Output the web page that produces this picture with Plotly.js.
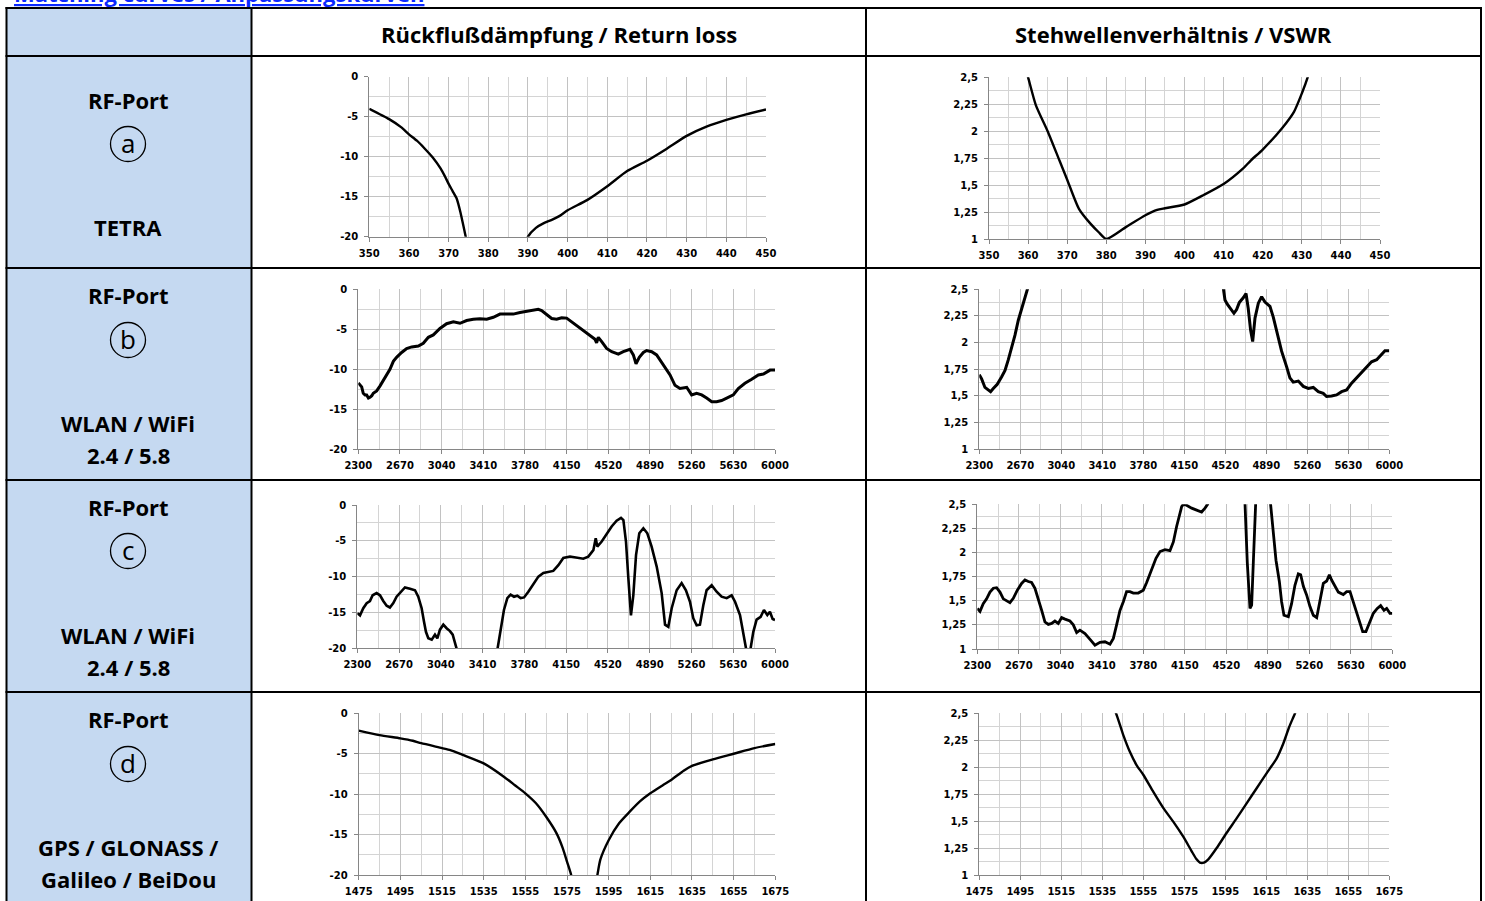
<!DOCTYPE html>
<html>
<head>
<meta charset="utf-8">
<script src="https://cdn.plot.ly/plotly-3.0.1.min.js"></script>
<style>html,body{margin:0;padding:0;background:#fff;}#chart{width:1485px;height:901px;}</style>
</head>
<body>
<div id="chart"></div>
<script>
// ---------------- DATA ----------------
const pageTitle = 'Matching curves / Anpassungskurven';
const columnHeaders = ['Rückflußdämpfung / Return loss', 'Stehwellenverhältnis / VSWR'];
const portLabel = 'RF-Port';
const portLetters = ['a', 'b', 'c', 'd'];
const bandLabels = [['TETRA'], ['WLAN / WiFi', '2.4 / 5.8'], ['WLAN / WiFi', '2.4 / 5.8'], ['GPS / GLONASS /', 'Galileo / BeiDou']];

const rlTickVals = [0, -5, -10, -15, -20];
const rlTickText = ['0', '-5', '-10', '-15', '-20'];
const vswrTickVals = [1, 1.25, 1.5, 1.75, 2, 2.25, 2.5];
const vswrTickText = ['1', '1,25', '1,5', '1,75', '2', '2,25', '2,5'];
const tetraTicks = [350, 360, 370, 380, 390, 400, 410, 420, 430, 440, 450];
const wlanTicks = [2300, 2670, 3040, 3410, 3780, 4150, 4520, 4890, 5260, 5630, 6000];
const gpsTicks = [1475, 1495, 1515, 1535, 1555, 1575, 1595, 1615, 1635, 1655, 1675];

// Row a: TETRA
const tetraRlFreq = [350, 355, 358, 360, 362, 364, 366, 368, 369, 370, 371, 372, 373, 374, 375, 378, 382, 386, 389, 390, 392, 394, 396, 398, 400, 405, 410, 415, 420, 425, 430, 435, 440, 445, 450];
const tetraRlDb = [-4.0, -5.3, -6.3, -7.2, -8.0, -9.0, -10.1, -11.5, -12.4, -13.4, -14.3, -15.2, -17.0, -19.3, -21.5, -26, -30, -26, -21.5, -20.0, -18.9, -18.3, -17.9, -17.4, -16.7, -15.4, -13.7, -11.8, -10.5, -9.0, -7.4, -6.25, -5.4, -4.7, -4.1];
const tetraVswrFreq = [358, 360, 362, 365, 368, 370, 373, 376, 378, 380, 385, 390, 393, 395, 400, 405, 410, 415, 417, 420, 425, 428, 430, 431.5, 433];
const tetraVswr = [2.75, 2.5, 2.24, 2.0, 1.73, 1.55, 1.28, 1.14, 1.065, 1.0, 1.11, 1.22, 1.27, 1.285, 1.32, 1.41, 1.51, 1.655, 1.73, 1.83, 2.03, 2.18, 2.35, 2.5, 2.7];

// Row b: WLAN
const wlanBRlFreq = [2300, 2315, 2330, 2344, 2360, 2374, 2390, 2404, 2420, 2433, 2463, 2492, 2522, 2552, 2581, 2611, 2640, 2685, 2729, 2774, 2833, 2877, 2922, 2966, 3025, 3084, 3144, 3203, 3262, 3321, 3380, 3440, 3499, 3558, 3617, 3676, 3736, 3795, 3854, 3898, 3928, 3972, 4017, 4061, 4106, 4150, 4194, 4239, 4298, 4357, 4402, 4416, 4431, 4461, 4505, 4550, 4609, 4653, 4712, 4742, 4766, 4795, 4831, 4860, 4905, 4949, 5008, 5068, 5112, 5156, 5216, 5260, 5304, 5349, 5393, 5438, 5482, 5526, 5571, 5630, 5674, 5733, 5793, 5852, 5897, 5956, 6000];
const wlanBRlDb = [-11.7, -11.9, -12.2, -13.0, -13.2, -13.2, -13.6, -13.5, -13.3, -13.0, -12.7, -12.1, -11.4, -10.8, -10.0, -9.0, -8.5, -7.9, -7.4, -7.2, -7.1, -6.75, -6.0, -5.7, -4.9, -4.3, -4.05, -4.25, -3.9, -3.75, -3.67, -3.75, -3.5, -3.1, -3.1, -3.1, -2.9, -2.75, -2.6, -2.5, -2.65, -3.2, -3.65, -3.75, -3.55, -3.6, -4.05, -4.55, -5.1, -5.7, -6.25, -6.7, -6.0, -6.55, -7.4, -7.8, -8.1, -7.8, -7.5, -8.2, -9.3, -8.5, -7.9, -7.65, -7.8, -8.2, -9.45, -10.7, -12.0, -12.4, -12.25, -13.2, -13.0, -13.2, -13.6, -14.05, -14.05, -13.9, -13.6, -13.2, -12.4, -11.75, -11.25, -10.7, -10.6, -10.1, -10.1];
const wlanBVswrFreq = [2300, 2321, 2351, 2381, 2402, 2426, 2462, 2502, 2532, 2562, 2592, 2622, 2652, 2682, 2712, 2733, 2751, 2800, 3500, 4450, 4502, 4517, 4538, 4568, 4598, 4622, 4646, 4682, 4707, 4727, 4748, 4767, 4788, 4818, 4848, 4878, 4923, 4953, 4989, 5028, 5073, 5103, 5133, 5179, 5224, 5269, 5314, 5359, 5404, 5434, 5479, 5524, 5570, 5615, 5660, 5705, 5750, 5795, 5840, 5886, 5931, 5961, 6000];
const wlanBVswr = [1.70, 1.66, 1.58, 1.56, 1.54, 1.57, 1.61, 1.68, 1.74, 1.84, 1.95, 2.07, 2.21, 2.32, 2.42, 2.5, 2.56, 2.9, 4.0, 2.9, 2.5, 2.4, 2.36, 2.32, 2.275, 2.31, 2.375, 2.42, 2.46, 2.32, 2.12, 2.01, 2.23, 2.37, 2.43, 2.38, 2.34, 2.24, 2.09, 1.92, 1.775, 1.67, 1.63, 1.64, 1.59, 1.57, 1.58, 1.54, 1.525, 1.495, 1.50, 1.51, 1.54, 1.556, 1.62, 1.67, 1.71, 1.76, 1.82, 1.84, 1.89, 1.925, 1.925];

// Row c: WLAN
const wlanCRlFreq = [2300, 2324, 2353, 2383, 2412, 2436, 2471, 2501, 2530, 2560, 2589, 2619, 2648, 2684, 2722, 2767, 2811, 2840, 2870, 2891, 2908, 2929, 2959, 2988, 3009, 3032, 3062, 3091, 3121, 3145, 3165, 3186, 3250, 3400, 3500, 3543, 3564, 3579, 3599, 3629, 3658, 3688, 3717, 3747, 3777, 3815, 3859, 3904, 3948, 3992, 4036, 4081, 4125, 4184, 4243, 4302, 4346, 4391, 4412, 4426, 4465, 4509, 4553, 4597, 4636, 4657, 4680, 4701, 4724, 4745, 4769, 4798, 4834, 4869, 4907, 4952, 4996, 5026, 5055, 5085, 5129, 5173, 5211, 5247, 5276, 5306, 5335, 5365, 5394, 5439, 5483, 5527, 5572, 5616, 5646, 5690, 5725, 5743, 5763, 5784, 5808, 5837, 5873, 5902, 5932, 5955, 5979, 6000];
const wlanCRlDb = [-15.1, -15.4, -14.4, -13.7, -13.4, -12.6, -12.3, -12.6, -13.4, -14.05, -14.3, -13.7, -12.8, -12.1, -11.5, -11.7, -11.9, -12.8, -14.4, -16.3, -17.7, -18.6, -18.8, -18.1, -18.6, -17.4, -16.7, -17.2, -17.6, -18.1, -19.1, -20.0, -24, -27, -24, -20.0, -18.1, -16.3, -14.65, -13.0, -12.5, -12.8, -12.65, -13.0, -12.9, -12.1, -11.1, -10.0, -9.5, -9.3, -9.2, -8.4, -7.4, -7.2, -7.4, -7.5, -7.2, -6.3, -4.65, -5.8, -5.1, -3.95, -3.0, -2.2, -1.8, -2.1, -5.1, -10.2, -15.4, -12.6, -7.0, -3.95, -3.25, -3.95, -5.8, -8.6, -12.3, -16.7, -17.0, -14.4, -11.9, -10.9, -11.9, -13.5, -15.8, -16.8, -16.7, -14.0, -11.9, -11.2, -12.1, -12.8, -13.0, -12.6, -13.5, -15.35, -18.1, -20.0, -23, -20.0, -17.7, -16.0, -15.6, -14.65, -15.35, -14.9, -15.9, -16.05];
const wlanCVswrFreq = [2300, 2324, 2353, 2383, 2413, 2443, 2472, 2502, 2532, 2562, 2591, 2621, 2657, 2695, 2725, 2755, 2784, 2814, 2844, 2874, 2903, 2933, 2963, 2992, 3022, 3052, 3082, 3126, 3156, 3186, 3215, 3260, 3305, 3349, 3394, 3438, 3483, 3513, 3542, 3572, 3602, 3631, 3661, 3691, 3735, 3780, 3810, 3854, 3893, 3929, 3973, 4018, 4048, 4077, 4101, 4122, 4137, 4166, 4211, 4256, 4300, 4330, 4354, 4400, 4550, 4687, 4707, 4731, 4746, 4761, 4779, 4850, 4915, 4939, 4963, 4993, 5013, 5034, 5073, 5102, 5132, 5162, 5183, 5207, 5236, 5266, 5296, 5326, 5355, 5385, 5415, 5439, 5459, 5489, 5519, 5563, 5593, 5623, 5652, 5682, 5712, 5736, 5765, 5801, 5831, 5866, 5896, 5926, 5950, 5979, 6000];
const wlanCVswr = [1.42, 1.39, 1.47, 1.52, 1.59, 1.63, 1.635, 1.59, 1.52, 1.50, 1.48, 1.525, 1.61, 1.68, 1.715, 1.70, 1.69, 1.63, 1.525, 1.40, 1.28, 1.255, 1.265, 1.29, 1.265, 1.325, 1.31, 1.29, 1.25, 1.17, 1.195, 1.16, 1.10, 1.04, 1.07, 1.075, 1.05, 1.11, 1.25, 1.40, 1.49, 1.595, 1.595, 1.58, 1.58, 1.61, 1.69, 1.82, 1.94, 2.01, 2.03, 2.02, 2.11, 2.27, 2.39, 2.475, 2.5, 2.49, 2.46, 2.44, 2.42, 2.46, 2.5, 2.9, 4.0, 2.5, 1.9, 1.42, 1.455, 1.9, 2.5, 4.5, 2.5, 2.22, 1.92, 1.70, 1.49, 1.35, 1.335, 1.47, 1.66, 1.78, 1.77, 1.65, 1.56, 1.44, 1.35, 1.325, 1.49, 1.68, 1.705, 1.77, 1.715, 1.645, 1.59, 1.565, 1.595, 1.595, 1.49, 1.40, 1.28, 1.18, 1.18, 1.28, 1.37, 1.42, 1.45, 1.40, 1.42, 1.37, 1.37];

// Row d: GPS
const gpsRlFreq = [1475, 1485, 1495, 1501, 1505, 1515, 1519, 1525, 1535, 1545, 1550, 1555, 1560, 1565, 1570, 1573, 1575, 1577, 1580, 1583, 1587, 1589.6, 1591, 1595, 1600, 1605, 1610, 1615, 1621, 1625, 1631, 1635, 1645, 1655, 1665, 1675];
const gpsRlDb = [-2.15, -2.7, -3.1, -3.4, -3.7, -4.3, -4.55, -5.15, -6.2, -7.9, -8.9, -9.9, -11.1, -12.8, -14.85, -16.7, -18.35, -20.0, -24, -27, -24, -20.0, -18.1, -15.7, -13.6, -12.2, -10.9, -9.9, -8.9, -8.25, -7.1, -6.5, -5.7, -5.0, -4.3, -3.8];
const gpsVswrFreq = [1538, 1541.7, 1545.2, 1548.5, 1551.7, 1555, 1559.9, 1564.8, 1569.6, 1574.5, 1578.6, 1581, 1582.6, 1584.6, 1586.7, 1590.8, 1595.6, 1600.5, 1605.4, 1610.3, 1615.2, 1620, 1623.3, 1626.2, 1629, 1632];
const gpsVswr = [2.65, 2.5, 2.30, 2.14, 2.02, 1.93, 1.77, 1.62, 1.495, 1.355, 1.22, 1.145, 1.115, 1.115, 1.145, 1.25, 1.39, 1.525, 1.665, 1.805, 1.945, 2.08, 2.22, 2.375, 2.5, 2.65];

// ---------------- LAYOUT ----------------
const W = 1485, H = 901;
const PX = p => p / W;
const PY = p => 1 - p / H;
const BLUE = '#c5d9f1';
const GRID = '#c2c2c2';
const GRID_MINOR = '#d4d4d4';
const AXIS = '#868686';
const tickFont = {family: 'DejaVu Sans', size: 10, color: '#000', weight: 'bold'};

// plot area boxes in pixels [x0, x1, y0(top), y1(bottom)]
const boxes = [
  [369.3, 766, 76.7, 236.7], [989, 1380, 77.3, 239],
  [358.3, 775, 289.3, 449.3], [979.3, 1389.3, 289.3, 449.3],
  [357.3, 775, 505, 648.3], [977.3, 1392.3, 504.3, 649],
  [358.7, 775.3, 713.3, 875], [979.3, 1389.3, 713.3, 875]
];
const xSpecs = [
  {ticks: tetraTicks, minor: 5}, {ticks: tetraTicks, minor: 5},
  {ticks: wlanTicks, minor: 185}, {ticks: wlanTicks, minor: 185},
  {ticks: wlanTicks, minor: 185}, {ticks: wlanTicks, minor: 185},
  {ticks: gpsTicks, minor: 10}, {ticks: gpsTicks, minor: 10}
];
const series = [
  [tetraRlFreq, tetraRlDb], [tetraVswrFreq, tetraVswr],
  [wlanBRlFreq, wlanBRlDb], [wlanBVswrFreq, wlanBVswr],
  [wlanCRlFreq, wlanCRlDb], [wlanCVswrFreq, wlanCVswr],
  [gpsRlFreq, gpsRlDb], [gpsVswrFreq, gpsVswr]
];
const lineWidths = [2.4, 2.4, 3, 3, 2.6, 2.8, 2.4, 2.4];
const smoothRows = [true, true, false, false, false, false, true, true];

const layout = {
  width: W, height: H,
  margin: {l: 0, r: 0, t: 0, b: 0},
  paper_bgcolor: '#fff', plot_bgcolor: '#fff',
  showlegend: false,
  shapes: [], annotations: []
};
const traces = [];

boxes.forEach((b, i) => {
  const n = i + 1;
  const isRl = (i % 2 === 0);
  const xs = xSpecs[i];
  const xa = {
    domain: [PX(b[0]), PX(b[1])],
    range: [xs.ticks[0], xs.ticks[xs.ticks.length - 1]],
    anchor: 'y' + n,
    tickmode: 'array', tickvals: xs.ticks, ticktext: xs.ticks.map(String),
    showgrid: true, gridcolor: GRID, gridwidth: 1,
    minor: {tickmode: 'linear', tick0: xs.ticks[0], dtick: xs.minor, showgrid: true, gridcolor: GRID_MINOR, gridwidth: 1, ticks: ''},
    showline: true, linecolor: AXIS, linewidth: 1,
    ticks: 'outside', ticklen: 4, tickcolor: AXIS, ticklabelstandoff: 3,
    tickfont: tickFont, zeroline: false, fixedrange: true
  };
  const ya = {
    domain: [PY(b[3]), PY(b[2])],
    range: isRl ? [-20, 0] : [1, 2.5],
    anchor: 'x' + n,
    tickmode: 'array',
    tickvals: isRl ? rlTickVals : vswrTickVals,
    ticktext: isRl ? rlTickText : vswrTickText,
    showgrid: true, gridcolor: GRID, gridwidth: 1,
    minor: {tickmode: 'linear', tick0: isRl ? 0 : 1, dtick: isRl ? 2.5 : 0.125, showgrid: true, gridcolor: GRID_MINOR, gridwidth: 1, ticks: ''},
    showline: true, linecolor: AXIS, linewidth: 1,
    ticks: 'outside', ticklen: 4, tickcolor: AXIS, ticklabelstandoff: 4,
    tickfont: tickFont, zeroline: false, fixedrange: true
  };
  layout['xaxis' + (n === 1 ? '' : n)] = xa;
  layout['yaxis' + (n === 1 ? '' : n)] = ya;
  traces.push({
    type: 'scatter', mode: 'lines',
    x: series[i][0], y: series[i][1],
    xaxis: 'x' + (n === 1 ? '' : n), yaxis: 'y' + (n === 1 ? '' : n),
    line: smoothRows[i] ? {color: '#000', width: lineWidths[i], shape: 'spline', smoothing: 0.6}
                        : {color: '#000', width: lineWidths[i], shape: 'linear'},
    hoverinfo: 'skip'
  });
});

// table backgrounds
function rect(x0, y0, x1, y1, fill) {
  layout.shapes.push({type: 'rect', xref: 'paper', yref: 'paper', x0: PX(x0), x1: PX(x1), y0: PY(y1), y1: PY(y0), fillcolor: fill, line: {width: 0}, layer: 'below'});
}
function hline(y, x0, x1) {
  layout.shapes.push({type: 'line', xref: 'paper', yref: 'paper', x0: PX(x0), x1: PX(x1), y0: PY(y), y1: PY(y), line: {color: '#000', width: 2}, layer: 'above'});
}
function vline(x, y0, y1) {
  layout.shapes.push({type: 'line', xref: 'paper', yref: 'paper', x0: PX(x), x1: PX(x), y0: PY(y0), y1: PY(y1), line: {color: '#000', width: 2}, layer: 'above'});
}
rect(6, 8, 252, 901, BLUE);
[8, 56, 268, 480, 692].forEach(y => hline(y, 5.5, 1482));
[6.5, 251.5, 866, 1481].forEach(x => vline(x, 7, 901));

// title link (cut off at the top edge, as in the source page)
layout.annotations.push({
  xref: 'paper', yref: 'paper', x: PX(12), y: PY(10), xanchor: 'left', yanchor: 'bottom',
  text: '<u>' + pageTitle + '</u>', showarrow: false,
  font: {family: 'Open Sans', size: 22, color: '#0a28ff', weight: 700}
});
// column headers
[[559, 34], [1173, 34]].forEach((p, i) => {
  layout.annotations.push({
    xref: 'paper', yref: 'paper', x: PX(p[0]), y: PY(p[1]), xanchor: 'center', yanchor: 'middle',
    text: columnHeaders[i], showarrow: false,
    font: {family: 'Open Sans', size: 22, color: '#000', weight: 700}
  });
});
// left column labels
const rowTops = [56, 268, 480, 692];
const portOffsets = [44, 27, 27, 27];
const circleOffsets = [88, 72, 71, 72];
const labelFont = {family: 'Open Sans', size: 22, color: '#000', weight: 700};
rowTops.forEach((t, i) => {
  const cx = 128;
  layout.annotations.push({xref: 'paper', yref: 'paper', x: PX(cx), y: PY(t + portOffsets[i]), xanchor: 'center', yanchor: 'middle', text: portLabel, showarrow: false, font: labelFont});
  const cy = t + circleOffsets[i];
  layout.shapes.push({type: 'circle', xref: 'paper', yref: 'paper', x0: PX(cx - 17.5), x1: PX(cx + 17.5), y0: PY(cy + 17.5), y1: PY(cy - 17.5), line: {color: '#000', width: 1.3}, layer: 'above'});
  layout.annotations.push({xref: 'paper', yref: 'paper', x: PX(cx), y: PY(cy - 1.5), xanchor: 'center', yanchor: 'middle', text: portLetters[i], showarrow: false, font: {family: 'Open Sans', size: 26, color: '#000', weight: 400}});
  const lines = bandLabels[i];
  if (lines.length === 1) {
    layout.annotations.push({xref: 'paper', yref: 'paper', x: PX(cx), y: PY(t + 171), xanchor: 'center', yanchor: 'middle', text: lines[0], showarrow: false, font: labelFont});
  } else {
    layout.annotations.push({xref: 'paper', yref: 'paper', x: PX(cx), y: PY(t + 155), xanchor: 'center', yanchor: 'middle', text: lines[0], showarrow: false, font: labelFont});
    layout.annotations.push({xref: 'paper', yref: 'paper', x: PX(cx), y: PY(t + 187), xanchor: 'center', yanchor: 'middle', text: lines[1], showarrow: false, font: labelFont});
  }
});

Plotly.newPlot('chart', traces, layout, {displayModeBar: false, staticPlot: true});
</script>
</body>
</html>
